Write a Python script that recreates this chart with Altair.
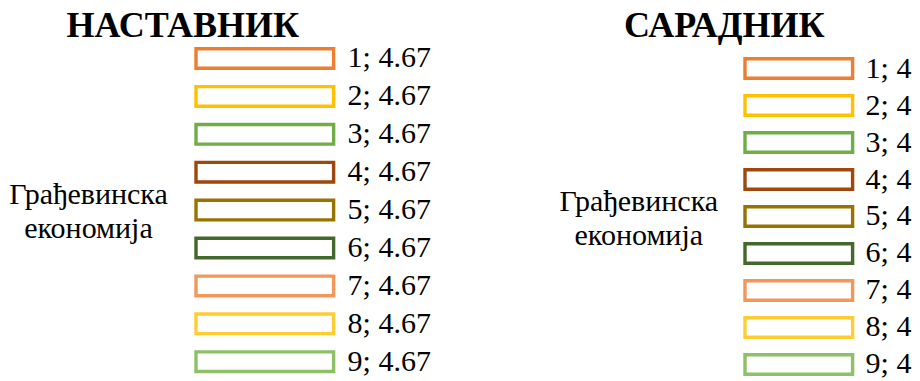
import altair as alt
import pandas as pd

category = ["Грађевинска економија"]
series = ["1", "2", "3", "4", "5", "6", "7", "8", "9"]
colors = ["#ED7D31", "#FFC000", "#70AD47", "#9E480E", "#997300",
          "#43682B", "#F1975A", "#FFCD33", "#8CC168"]
nastavnik_values = [4.67, 4.67, 4.67, 4.67, 4.67, 4.67, 4.67, 4.67, 4.67]
saradnik_values = [4, 4, 4, 4, 4, 4, 4, 4, 4]

FONT = "'Liberation Serif', 'Times New Roman', 'DejaVu Serif', serif"


def make_df(values):
    return pd.DataFrame({
        "category": category * len(series),
        "series": series,
        "value": values,
        "label": [f"{s}; {format(v, 'g')}" for s, v in zip(series, values)],
    })


def panel(df, title, width, height, xmax, pad_inner, pad_outer, align,
          cat_x, cat_y, title_dx, text_dx):
    base = alt.Chart(df).encode(
        y=alt.Y(
            "series:N",
            scale=alt.Scale(domain=series, paddingInner=pad_inner,
                            paddingOuter=pad_outer, align=align, round=False),
            axis=alt.Axis(
                labels=False, domain=False, ticks=False, grid=False,
                title=category[0].split(" "),
                titleFont=FONT, titleFontSize=30, titleFontWeight="normal",
                titleColor="black", titleAngle=0, titleAlign="center",
                titleBaseline="alphabetic", titleX=cat_x, titleY=cat_y,
                titleLineHeight=34,
            ),
        ),
        x=alt.X("value:Q", axis=None,
                scale=alt.Scale(domain=[0, xmax], nice=False, zero=True)),
    )
    bars = base.mark_bar(fill="white", strokeWidth=3.4).encode(
        stroke=alt.Stroke("series:N", scale=alt.Scale(domain=series, range=colors),
                          legend=None),
    )
    text = base.mark_text(align="left", baseline="middle", dx=text_dx,
                          font=FONT, fontSize=30, color="black").encode(
        text="label:N"
    )
    return alt.layer(bars, text).properties(
        width=width, height=height,
        title=alt.TitleParams(title, font=FONT, fontSize=36, fontWeight="bold",
                              color="black", frame="group", anchor="middle",
                              baseline="alphabetic", offset=-32.3, dx=title_dx),
    )


left = panel(make_df(nastavnik_values), "НАСТАВНИК", 240, 331.5, 240 / 29.47,
             0.483, 0.1148, 0.885, -108, 162, -133.2, 14)
right = panel(make_df(saradnik_values), "САРАДНИК", 150, 334.3, 150 / 26.9,
              0.47, 0.2527, 0.9465, -106.7, 169, -95.7, 13)

chart = alt.hconcat(left, right, spacing=123).configure_view(stroke=None).properties(
    padding={"left": 0, "top": 0, "right": 0, "bottom": 0}
)

chart.save("out.html", embed_options={"renderer": "svg", "actions": False})
